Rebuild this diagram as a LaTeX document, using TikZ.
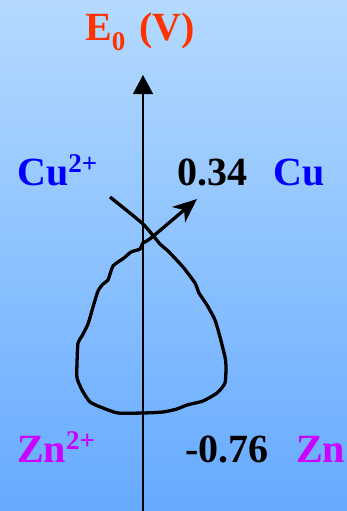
\documentclass[tikz,border=0pt]{standalone}
\usepackage{fontspec}
\setmainfont{Liberation Serif}
\usepackage{xcolor}
\usetikzlibrary{arrows.meta,positioning}

\definecolor{bgtop}{RGB}{180,218,255}
\definecolor{bgbot}{RGB}{102,170,255}
\definecolor{ecol}{RGB}{255,51,0}
\definecolor{cucol}{RGB}{0,0,250}
\definecolor{zncol}{RGB}{204,0,255}

\newcommand{\supz}[1]{\raisebox{13pt}{\fontsize{27}{27}\selectfont #1}}
\newcommand{\subz}[1]{\raisebox{-10pt}{\fontsize{27}{27}\selectfont #1}}

\begin{document}
\begin{tikzpicture}[x=1pt,y=-1pt,
lbl/.style={anchor=base west, inner sep=0pt, font=\fontsize{40}{48}\selectfont\bfseries},
axis/.style={line width=1.3pt, -{Triangle[length=19pt,width=20pt]}},
redox/.style={line width=3.3pt, line join=round, -{Stealth[length=24pt,width=20pt,inset=7pt]}}
]
\shade[top color=bgtop, bottom color=bgbot] (0,0) rectangle (347,511);
\useasboundingbox (0,0) rectangle (347,511);

\node[lbl, text=ecol] (title) at (85,41) {E\subz{0}\hspace{4pt} (V)};
\node[lbl, text=cucol] (cuion) at (17,185) {Cu\supz{2+}};
\node[lbl] (cupot) at (177,185) {0.34};
\node[lbl, text=cucol] (cumet) at (273,185) {Cu};
\node[lbl, text=zncol] (znion) at (17,462) {Zn\supz{2+}};
\node[lbl] (znpot) at (185,462) {-0.76};
\node[lbl, text=zncol] (znmet) at (296,462) {Zn};

\coordinate (axbot) at (143,511);
\coordinate (axtop) at (143,75);
\draw[axis] (axbot) -- (axtop);

\draw[redox] plot[smooth, tension=0.35] coordinates {
(110,197) (143,224) (160,244) (168,251) (183,267) (195,283) (199,293)
(207,305) (215,320) (220,337) (225,357) (226,366) (225,383) (217,393)
(203,401) (187,405) (177,409) (163,412) (143,413) (118,413) (103,408)
(90,402) (82,390) (77,378) (77,363) (78,343) (82,336) (88,324) (93,307)
(98,291) (103,284) (108,280) (113,266) (124,258) (131,252) (140,249)
(143,243) (151,238) (197,199)};
\end{tikzpicture}
\end{document}
